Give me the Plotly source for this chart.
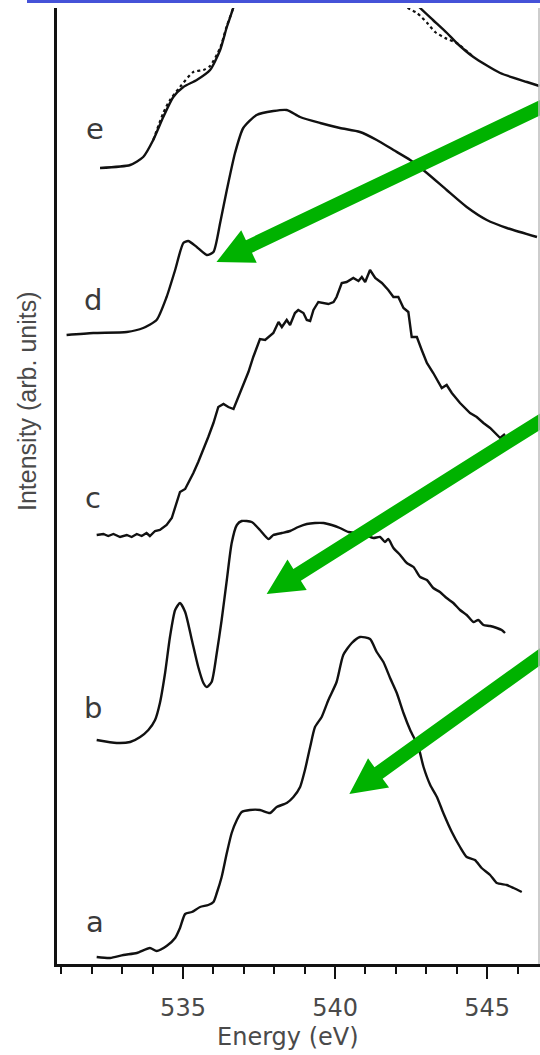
import math
import plotly.graph_objects as go

# ---------------- spectra: photon energy (eV) and intensity above baseline (arb. units) ----------------
energy_a = [532.16, 532.60, 533.04, 533.48, 533.91, 534.13, 534.46, 534.74, 534.90, 535.07, 535.29,
            535.56, 535.83, 536.00, 536.11, 536.27, 536.44, 536.60, 536.77, 536.93, 537.20, 537.53,
            537.86, 538.08, 538.41, 538.63, 538.85, 539.01, 539.18, 539.34, 539.56, 539.78, 540.05,
            540.27, 540.55, 540.82, 541.15, 541.37, 541.59, 541.81, 542.03, 542.25, 542.47, 542.74,
            542.91, 543.13, 543.35, 543.56, 543.84, 544.11, 544.33, 544.60, 544.82, 545.10, 545.32,
            545.65, 545.87, 546.14]
intensity_a = [0.01, 0.00, 0.03, 0.05, 0.10, 0.07, 0.12, 0.20, 0.30, 0.44, 0.46,
               0.51, 0.53, 0.56, 0.65, 0.81, 1.05, 1.25, 1.38, 1.46, 1.48, 1.48,
               1.45, 1.51, 1.55, 1.61, 1.71, 1.88, 2.11, 2.31, 2.41, 2.58, 2.76,
               3.03, 3.15, 3.21, 3.19, 3.06, 2.96, 2.80, 2.65, 2.45, 2.28, 2.11,
               1.91, 1.73, 1.61, 1.45, 1.26, 1.11, 1.01, 0.98, 0.90, 0.83, 0.75,
               0.73, 0.70, 0.66]

energy_b = [532.16, 532.82, 533.26, 533.59, 533.86, 534.08, 534.24, 534.41, 534.57, 534.74, 534.90,
            535.07, 535.29, 535.50, 535.67, 535.78, 535.94, 536.11, 536.27, 536.44, 536.60, 536.77,
            536.93, 537.26, 537.53, 537.81, 537.97, 538.25, 538.52, 538.79, 539.07, 539.34, 539.62,
            539.89, 540.16, 540.44, 540.71, 540.99, 541.26, 541.48, 541.64, 541.75, 541.92, 542.14,
            542.36, 542.58, 542.80, 543.02, 543.23, 543.45, 543.67, 543.89, 544.11, 544.33, 544.55,
            544.71, 544.88, 545.10, 545.32, 545.48, 545.59]
intensity_b = [0.02, -0.01, 0.00, 0.05, 0.12, 0.22, 0.39, 0.69, 1.05, 1.32, 1.39,
               1.30, 1.02, 0.75, 0.59, 0.55, 0.60, 0.89, 1.22, 1.62, 1.99, 2.17,
               2.21, 2.20, 2.12, 2.03, 2.07, 2.09, 2.11, 2.15, 2.18, 2.19, 2.19,
               2.17, 2.14, 2.10, 2.09, 2.07, 2.04, 2.05, 2.00, 2.03, 1.94, 1.87,
               1.79, 1.75, 1.65, 1.62, 1.54, 1.50, 1.44, 1.39, 1.32, 1.27, 1.20,
               1.22, 1.17, 1.16, 1.14, 1.12, 1.09]

energy_c = [532.16, 532.38, 532.54, 532.71, 532.93, 533.15, 533.31, 533.48, 533.64, 533.80, 533.91,
            534.08, 534.24, 534.46, 534.63, 534.79, 534.90, 535.07, 535.18, 535.34, 535.50, 535.67,
            535.83, 536.00, 536.16, 536.33, 536.49, 536.66, 536.82, 536.98, 537.15, 537.31, 537.42,
            537.53, 537.70, 537.81, 537.97, 538.14, 538.25, 538.41, 538.52, 538.68, 538.79, 538.96,
            539.07, 539.18, 539.29, 539.45, 539.62, 539.78, 539.95, 540.05, 540.22, 540.38, 540.60,
            540.77, 540.88, 540.99, 541.15, 541.32, 541.54, 541.75, 541.92, 542.08, 542.25, 542.41,
            542.52, 542.69, 542.85, 543.02, 543.23, 543.40, 543.51, 543.67, 543.84, 544.11, 544.44,
            544.66, 544.88, 545.10, 545.32, 545.43, 545.59]
intensity_c = [0.00, 0.01, -0.01, 0.01, -0.02, 0.00, -0.02, 0.01, -0.01, 0.02, -0.01,
               0.04, 0.05, 0.10, 0.17, 0.32, 0.43, 0.46, 0.52, 0.62, 0.73, 0.85,
               0.98, 1.12, 1.28, 1.31, 1.28, 1.26, 1.38, 1.52, 1.63, 1.78, 1.88,
               1.96, 1.95, 1.98, 2.02, 2.13, 2.08, 2.15, 2.10, 2.22, 2.25, 2.22,
               2.15, 2.14, 2.25, 2.33, 2.32, 2.31, 2.33, 2.38, 2.52, 2.53, 2.57,
               2.54, 2.58, 2.53, 2.65, 2.57, 2.52, 2.45, 2.38, 2.38, 2.27, 2.23,
               1.98, 1.98, 1.85, 1.72, 1.62, 1.53, 1.47, 1.50, 1.42, 1.32, 1.22,
               1.18, 1.12, 1.07, 1.00, 0.97, 1.01]

energy_d = [531.17, 532.05, 533.15, 533.69, 534.13, 534.46, 534.74, 535.01, 535.17, 535.45, 535.78,
            536.00, 536.22, 536.44, 536.71, 536.98, 537.42, 537.97, 538.41, 538.85, 539.51, 540.16,
            540.82, 541.37, 541.92, 542.47, 543.02, 543.67, 544.33, 544.99, 545.65, 546.64]
intensity_d = [0.00, 0.02, 0.03, 0.07, 0.15, 0.38, 0.65, 0.92, 0.94, 0.88, 0.80,
               0.83, 1.12, 1.45, 1.82, 2.07, 2.20, 2.24, 2.25, 2.18, 2.12, 2.07,
               2.03, 1.95, 1.85, 1.75, 1.62, 1.45, 1.28, 1.15, 1.07, 0.98]

energy_e = [532.27, 533.26, 533.69, 534.02, 534.35, 534.68, 535.01, 535.45, 535.89, 536.22, 536.44,
            536.65, 536.78, 537.10, 537.80, 538.80, 540.00, 541.20, 542.20, 542.80, 543.22, 543.68,
            544.00, 544.55, 545.43, 546.31, 546.72]
intensity_e = [0.00, 0.03, 0.11, 0.28, 0.51, 0.71, 0.81, 0.88, 0.98, 1.18, 1.41,
               1.60, 1.78, 2.05, 2.25, 2.30, 2.20, 2.00, 1.80, 1.60, 1.48, 1.35,
               1.25, 1.11, 0.95, 0.86, 0.82]

# second (dotted) curve drawn with spectrum e
energy_e_dot = [534.02, 534.35, 534.57, 534.90, 535.34, 535.67, 535.89, 536.22, 536.44, 536.65,
                536.78, 537.10, 537.80, 538.80, 540.00, 541.20, 542.10, 542.40, 542.70, 543.03,
                543.29, 543.62, 544.00, 544.55]
intensity_e_dot = [0.28, 0.55, 0.68, 0.81, 0.96, 0.98, 1.02, 1.20, 1.42, 1.60,
                   1.78, 2.05, 2.25, 2.30, 2.20, 2.00, 1.75, 1.60, 1.55, 1.45,
                   1.36, 1.30, 1.25, 1.11]

# vertical offsets of the stacked spectra and their labels
labels = ["a", "b", "c", "d", "e"]
offsets = [0.06, 2.22, 4.29, 6.29, 7.96]
label_energy = [532.11, 532.05, 532.05, 532.05, 532.11]
label_y = [0.42, 2.56, 4.66, 6.64, 8.35]

# arrows: (tip energy, tip y) -> (tail energy, tail y)
arrow_tips = [(536.10, 7.02), (537.75, 3.70), (540.47, 1.70)]
arrow_tails = [(547.14, 8.62), (547.14, 5.50), (547.14, 3.16)]

# ---------------- layout geometry ----------------
W, H = 540, 1055
ML, MR, MT, MB = 57, 0, 8, 91
X_RANGE = [530.855, 546.74]
Y_RANGE = [0.0, 9.56]
PW, PH = W - ML - MR, H - MT - MB

INK = "#111111"
TEXT = "#4a4a4a"
GREEN = "#00b200"

fig = go.Figure()

smooth = dict(color=INK, width=2.4, shape="spline", smoothing=0.6)

fig.add_trace(go.Scatter(
    x=energy_e_dot, y=[offsets[4] + v for v in intensity_e_dot], mode="lines",
    line=dict(color=INK, width=2.2, dash="dot", shape="spline", smoothing=0.6),
    showlegend=False, hoverinfo="skip"))
fig.add_trace(go.Scatter(
    x=energy_e, y=[offsets[4] + v for v in intensity_e], mode="lines",
    line=smooth, showlegend=False, name="e"))
fig.add_trace(go.Scatter(
    x=energy_d, y=[offsets[3] + v for v in intensity_d], mode="lines",
    line=smooth, showlegend=False, name="d"))
fig.add_trace(go.Scatter(
    x=energy_c, y=[offsets[2] + v for v in intensity_c], mode="lines",
    line=dict(color=INK, width=2.4), showlegend=False, name="c"))
fig.add_trace(go.Scatter(
    x=energy_b, y=[offsets[1] + v for v in intensity_b], mode="lines",
    line=smooth, showlegend=False, name="b"))
fig.add_trace(go.Scatter(
    x=energy_a, y=[offsets[0] + v for v in intensity_a], mode="lines",
    line=smooth, showlegend=False, name="a"))

for name, ex, ey in zip(labels, label_energy, label_y):
    fig.add_annotation(x=ex, y=ey, xref="x", yref="y", text=name, showarrow=False,
                       xanchor="center", yanchor="middle",
                       font=dict(family="DejaVu Sans", size=29, color="#3a3a3a"))


def to_px(e, y):
    px = ML + (e - X_RANGE[0]) / (X_RANGE[1] - X_RANGE[0]) * PW
    py = MT + (Y_RANGE[1] - y) / (Y_RANGE[1] - Y_RANGE[0]) * PH
    return px, py


def to_paper(px, py):
    return (px - ML) / PW, (H - MB - py) / PH


def arrow_path(tip, tail, shaft=14.0, head_len=36.0, head_w=36.0):
    tx, ty = to_px(*tip)
    sx, sy = to_px(*tail)
    dx, dy = tx - sx, ty - sy
    n = math.hypot(dx, dy)
    ux, uy = dx / n, dy / n
    nx, ny = -uy, ux
    bx, by = tx - ux * head_len, ty - uy * head_len
    pts = [
        (sx + nx * shaft / 2, sy + ny * shaft / 2),
        (bx + nx * shaft / 2, by + ny * shaft / 2),
        (bx + nx * head_w / 2, by + ny * head_w / 2),
        (tx, ty),
        (bx - nx * head_w / 2, by - ny * head_w / 2),
        (bx - nx * shaft / 2, by - ny * shaft / 2),
        (sx - nx * shaft / 2, sy - ny * shaft / 2),
    ]
    pp = [to_paper(*p) for p in pts]
    return "M " + " L ".join(f"{x:.5f},{y:.5f}" for x, y in pp) + " Z"


for tip, tail in zip(arrow_tips, arrow_tails):
    fig.add_shape(type="path", path=arrow_path(tip, tail), xref="paper", yref="paper",
                  fillcolor=GREEN, line=dict(width=0), layer="above")

# header bar and right frame line
bx0, _ = to_paper(27, 0)
_, by0 = to_paper(0, 3)
_, by1 = to_paper(0, -3)
fig.add_shape(type="rect", xref="paper", yref="paper", x0=bx0, x1=1.02, y0=by0, y1=by1,
              fillcolor="#4552d8", line=dict(width=0), layer="above")
rx, _ = to_paper(539, 0)
fig.add_shape(type="line", xref="paper", yref="paper", x0=rx, x1=rx, y0=0, y1=1,
              line=dict(color="#bdbdbd", width=1.5), layer="above")

# axis titles
tx, ty = to_paper(288, 1037)
fig.add_annotation(x=tx, y=ty, xref="paper", yref="paper", text="Energy (eV)", showarrow=False,
                   xanchor="center", yanchor="middle",
                   font=dict(family="DejaVu Sans", size=24, color=TEXT))
yx, yy = to_paper(27, 401)
fig.add_annotation(x=yx, y=yy, xref="paper", yref="paper", text="Intensity (arb. units)",
                   showarrow=False, textangle=-90, xanchor="center", yanchor="middle",
                   font=dict(family="Liberation Sans", size=25, color=TEXT))

fig.update_layout(
    width=W, height=H,
    margin=dict(l=ML, r=MR, t=MT, b=MB, pad=0),
    paper_bgcolor="white", plot_bgcolor="white",
    showlegend=False,
    xaxis=dict(
        range=X_RANGE, showgrid=False, zeroline=False,
        showline=True, linecolor=INK, linewidth=2.5,
        ticks="outside", tick0=535, dtick=5, ticklen=12, tickwidth=2, tickcolor=INK,
        ticklabelstandoff=8,
        tickfont=dict(family="DejaVu Sans", size=24, color=TEXT),
        minor=dict(ticks="outside", tick0=530, dtick=1, ticklen=7, tickwidth=2, tickcolor=INK),
    ),
    yaxis=dict(
        range=Y_RANGE, showgrid=False, zeroline=False, showticklabels=False,
        showline=True, linecolor=INK, linewidth=3, ticks="",
    ),
)

fig.write_html("out.html")
